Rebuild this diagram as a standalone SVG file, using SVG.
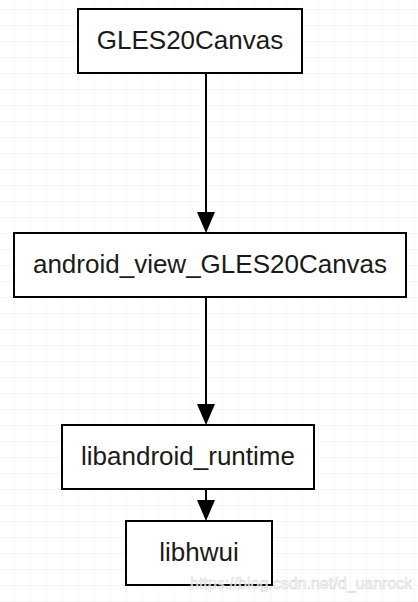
<svg xmlns="http://www.w3.org/2000/svg" width="418" height="602" viewBox="0 0 418 602">
<defs>
<pattern id="grid" x="14" y="9" width="16" height="16" patternUnits="userSpaceOnUse">
<path d="M0 0H16M0 0V16" fill="none" stroke="#ececec" stroke-width="1"/>
</pattern>
<style>
.box{fill:#fff;stroke:#000;stroke-width:2}
.lbl{font-family:"Liberation Sans",Arial,sans-serif;font-size:26px;fill:#1a1a1a;text-anchor:middle}
.edge{stroke:#000;stroke-width:2;fill:none}
.head{fill:#000}
</style>
</defs>
<rect x="0" y="0" width="418" height="602" fill="#fff"/>
<rect x="0" y="0" width="418" height="602" fill="url(#grid)"/>
<g id="connectors">
<path class="edge" d="M206 73V212"/>
<path class="head" d="M197 212L215 212L206 233Z"/>
<path class="edge" d="M206 297V404"/>
<path class="head" d="M197 404L215 404L206 425Z"/>
<path class="edge" d="M206 489V500"/>
<path class="head" d="M197 500L215 500L206 521Z"/>
</g>
<g id="n1"><rect class="box" x="78" y="9" width="224" height="64"/><text class="lbl" x="190" y="49">GLES20Canvas</text></g>
<g id="n2"><rect class="box" x="14" y="233" width="392" height="64"/><text class="lbl" x="210" y="273">android_view_GLES20Canvas</text></g>
<g id="n3"><rect class="box" x="62" y="425" width="252" height="64"/><text class="lbl" x="188" y="465">libandroid_runtime</text></g>
<g id="n4"><rect class="box" x="126" y="521" width="146" height="64"/><text class="lbl" x="199" y="561">libhwui</text></g>
<text x="190" y="589" font-family="Liberation Sans,Arial,sans-serif" font-size="16" fill="#fff" fill-opacity="0.7" stroke="#d8d8d8" stroke-width="0.6">https://blog.csdn.net/d_uanrock</text>
</svg>
